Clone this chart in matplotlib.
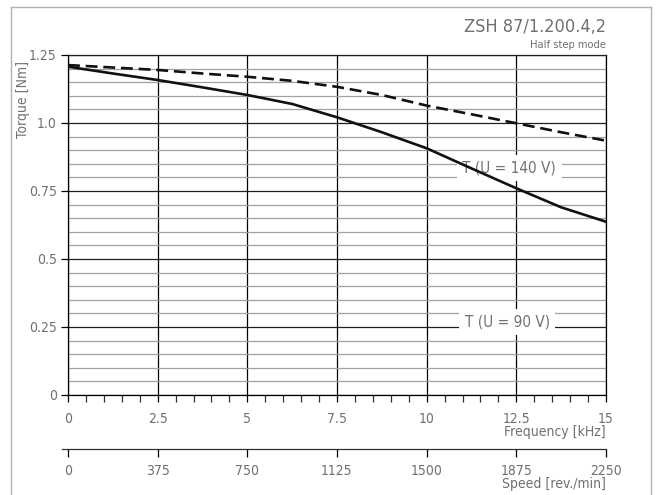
import numpy as np
import matplotlib
matplotlib.use('Agg')
import matplotlib.pyplot as plt
from matplotlib.lines import Line2D
from matplotlib.ticker import MultipleLocator

plt.rcParams['font.family'] = ['DejaVu Sans']
plt.rcParams['font.stretch'] = 'condensed'

# data
freq = [0, 1.25, 2.5, 3.75, 5, 6.25, 7.5, 8.75, 10, 11.25, 12.5, 13.75, 15]
t_140 = [1.213, 1.204, 1.195, 1.182, 1.170, 1.155, 1.133, 1.103, 1.064, 1.032, 0.999, 0.966, 0.935]
t_90 = [1.207, 1.182, 1.158, 1.131, 1.103, 1.070, 1.021, 0.966, 0.907, 0.833, 0.760, 0.690, 0.637]

freq_ticks = [0, 2.5, 5, 7.5, 10, 12.5, 15]
freq_labels = ['0', '2.5', '5', '7.5', '10', '12.5', '15']
speed_ticks = [0, 375, 750, 1125, 1500, 1875, 2250]
torque_ticks = [0, 0.25, 0.5, 0.75, 1.0, 1.25]
torque_labels = ['0', '0.25', '0.5', '0.75', '1.0', '1.25']

W, H = 661, 495
TXT = '#707070'

fig = plt.figure(figsize=(W / 100, H / 100), dpi=100)

def fx(px):
    return px / W

def fy(py):
    return 1 - py / H

# outer frame
frame = dict(color='#b0b0b0', lw=1.0)
fig.add_artist(Line2D([fx(11), fx(11)], [fy(7), 0], transform=fig.transFigure, **frame))
fig.add_artist(Line2D([fx(11), fx(651)], [fy(7), fy(7)], transform=fig.transFigure, **frame))
fig.add_artist(Line2D([fx(651), fx(651)], [fy(7), 0], transform=fig.transFigure, **frame))

x0, x1, y0, y1 = 68, 606, 55, 395
ax = fig.add_axes([fx(x0), fy(y1), fx(x1 - x0), fy(y0) - fy(y1)])
ax.set_xlim(0, 15)
ax.set_ylim(0, 1.25)

ax.set_xticks(freq_ticks)
ax.set_xticklabels(freq_labels)
ax.xaxis.set_minor_locator(MultipleLocator(0.5))
ax.set_yticks(torque_ticks)
ax.set_yticklabels(torque_labels)
ax.yaxis.set_minor_locator(MultipleLocator(0.05))

ax.set_axisbelow(True)
ax.grid(True, which='major', axis='x', color='black', lw=0.9)
ax.grid(True, which='minor', axis='y', color='#a0a0a0', lw=0.9)
ax.grid(True, which='major', axis='y', color='#202020', lw=0.9)

for s in ['left', 'bottom', 'right', 'top']:
    ax.spines[s].set_color('black')
    ax.spines[s].set_linewidth(0.9)
ax.spines['top'].set_color('#202020')

ax.tick_params(axis='both', which='major', length=5, width=0.9, labelsize=10,
               labelcolor=TXT, color='black')
ax.tick_params(axis='x', which='major', pad=7)
ax.tick_params(axis='y', which='major', pad=3)
ax.tick_params(axis='x', which='minor', length=5, width=0.9, color='#303030')
ax.tick_params(axis='y', which='minor', length=0)

ax.plot(freq, t_140, color='#111111', lw=1.9, dashes=(4.5, 2.2), zorder=4)
ax.plot(freq, t_90, color='#111111', lw=1.9, zorder=4)

box = dict(facecolor='white', edgecolor='none', pad=4)
ax.text(12.3, 0.833, 'T (U = 140 V)', ha='center', va='center', fontsize=11,
        color=TXT, bbox=box, zorder=3)
ax.text(12.25, 0.27, 'T (U = 90 V)', ha='center', va='center', fontsize=11,
        color=TXT, bbox=box, zorder=3)

ax.set_ylabel('Torque [Nm]', color=TXT, fontsize=10)
ax.yaxis.set_label_coords(-0.07, 0.87)

fig.text(fx(606), fy(27), 'ZSH 87/1.200.4,2', ha='right', va='center', fontsize=13, color=TXT)
fig.text(fx(606), fy(45), 'Half step mode', ha='right', va='center', fontsize=8, color=TXT)
fig.text(fx(606), fy(432), 'Frequency [kHz]', ha='right', va='center', fontsize=10, color=TXT)
fig.text(fx(606), fy(484), 'Speed [rev./min]', ha='right', va='center', fontsize=10, color=TXT)

# speed axis
ax2 = fig.add_axes([fx(62), fy(449), fx(606 - 62), 0.001])
span = speed_ticks[-1] - speed_ticks[0]
ax2.set_xlim(-span * 6 / (x1 - x0), speed_ticks[-1])
ax2.set_ylim(0, 1)
ax2.set_yticks([])
for s in ['left', 'right', 'top']:
    ax2.spines[s].set_visible(False)
ax2.spines['bottom'].set_linewidth(0.9)
ax2.spines['bottom'].set_color('#303030')
ax2.patch.set_visible(False)
ax2.set_xticks(speed_ticks)
ax2.set_xticklabels([str(v) for v in speed_ticks])
ax2.tick_params(axis='x', length=6, width=0.9, labelsize=10, labelcolor=TXT, pad=5)

fig.savefig('out.png', dpi=100)
